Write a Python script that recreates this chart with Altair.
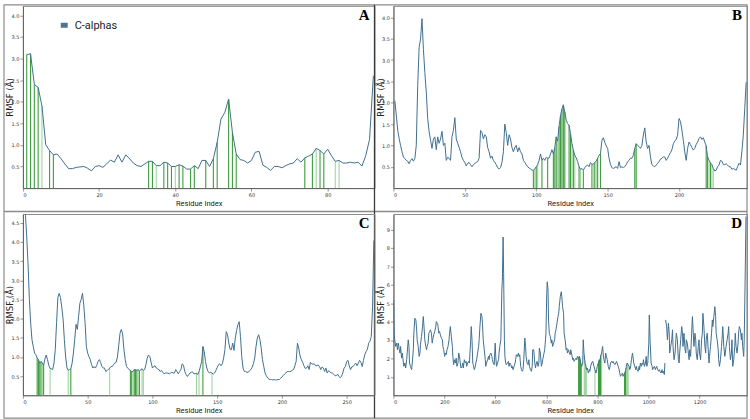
import altair as alt
import numpy as np
import pandas as pd

BLUE = "#3f6f8f"
FRAME = "#8c8c8c"

# ---------------- Panel A: residues 1..92 ----------------
a_rmsf = [
    3.09, 3.11, 2.40, 2.33, 1.90, 1.00, 0.87, 0.77, 0.79, 0.68,
    0.56, 0.45, 0.45, 0.48, 0.49, 0.50, 0.46, 0.40, 0.50, 0.52,
    0.48, 0.56, 0.65, 0.60, 0.77, 0.60, 0.77, 0.68, 0.58, 0.52,
    0.50, 0.56, 0.62, 0.62, 0.52, 0.52, 0.60, 0.58, 0.50, 0.50,
    0.54, 0.51, 0.44, 0.44, 0.52, 0.45, 0.64, 0.64, 0.50, 0.68,
    1.06, 1.60, 1.75, 2.06, 1.29, 0.79, 0.66, 0.64, 0.58, 0.64,
    0.83, 0.85, 0.53, 0.48, 0.41, 0.50, 0.50, 0.47, 0.52, 0.56,
    0.58, 0.68, 0.60, 0.70, 0.74, 0.79, 0.92, 0.87, 0.79, 0.90,
    0.75, 0.62, 0.64, 0.58, 0.58, 0.60, 0.58, 0.60, 0.51, 0.75,
    1.13, 2.60,
]
a_contacts_dark = [1, 2, 3, 4, 7, 8, 33, 34, 37, 38, 39, 41, 42, 44, 45,
                   48, 50, 51, 54, 55, 56, 74, 76, 78, 79]
a_contacts_light = [5, 35, 40, 77, 82, 83]

# ---------------- Panel B: residues 1..247 ----------------
b_rmsf = [
    2.05, 1.71, 1.36, 1.16, 1.00, 0.85, 0.73, 0.69, 0.65, 0.63,
    0.57, 0.65, 0.69, 0.63, 0.69, 1.00, 2.40, 3.30, 3.49, 3.97,
    3.25, 2.71, 2.25, 1.63, 1.32, 1.12, 0.93, 1.15, 1.20, 0.90,
    1.20, 1.05, 1.15, 1.33, 1.00, 1.05, 0.65, 0.72, 0.70, 0.65,
    1.20, 1.35, 1.65, 1.15, 1.05, 0.95, 0.85, 0.72, 0.65, 0.60,
    0.52, 0.58, 0.60, 0.55, 0.50, 0.55, 0.58, 0.60, 0.62, 0.70,
    1.35, 1.30, 1.15, 1.25, 1.20, 0.95, 0.85, 0.70, 0.75, 0.65,
    0.60, 0.55, 0.48, 0.45, 0.48, 0.60, 0.85, 1.50, 1.30, 1.00,
    1.25, 1.15, 0.95, 0.85, 0.95, 1.00, 0.85, 0.95, 0.85, 0.80,
    0.65, 0.60, 0.55, 0.50, 0.47, 0.45, 0.42, 0.42, 0.45, 0.50,
    0.55, 0.65, 0.80, 0.65, 0.70, 0.65, 0.72, 0.70, 0.70, 0.80,
    0.90, 0.80, 0.95, 1.20, 1.10, 1.45, 1.70, 1.85, 1.95, 1.78,
    1.59, 1.51, 1.47, 1.28, 1.04, 0.89, 0.77, 0.71, 0.62, 0.50,
    0.44, 0.46, 0.42, 0.48, 0.52, 0.54, 0.50, 0.60, 0.55, 0.57,
    0.60, 0.63, 0.70, 0.77, 0.81, 1.12, 1.18, 1.07, 0.99, 0.93,
    0.70, 0.55, 0.48, 0.46, 0.48, 0.50, 0.46, 0.62, 0.48, 0.50,
    0.48, 0.50, 0.55, 0.62, 0.65, 0.70, 0.70, 0.77, 0.93, 1.04,
    1.00, 0.97, 0.93, 1.00, 1.24, 1.41, 1.08, 0.93, 1.00, 0.73,
    0.55, 0.52, 0.50, 0.54, 0.58, 0.62, 0.68, 0.70, 0.73, 0.73,
    0.65, 0.70, 0.77, 0.83, 0.90, 1.04, 1.10, 1.14, 1.24, 1.63,
    1.56, 1.36, 1.12, 0.85, 0.65, 0.93, 1.08, 1.02, 0.95, 0.89,
    0.93, 1.02, 1.08, 1.16, 1.20, 1.14, 1.18, 1.08, 0.99, 0.73,
    0.65, 0.59, 0.55, 0.46, 0.40, 0.42, 0.50, 0.54, 0.65, 0.63,
    0.55, 0.55, 0.57, 0.54, 0.50, 0.50, 0.44, 0.46, 0.44, 0.42,
    0.50, 0.58, 0.54, 0.85, 1.24, 1.86, 2.48,
]
b_contacts_dark = [98, 100, 104, 108, 112, 113, 114, 116, 117, 118, 119, 120,
                   123, 124, 126, 130, 133, 139, 141, 143, 145, 169, 170,
                   219, 220, 222]
b_contacts_light = [99, 101, 115, 125, 127, 131, 140, 142, 221, 223, 224]

# ---------------- Panel C: residues 1..271 ----------------
c_rmsf = [
    4.95, 4.70, 4.10, 3.40, 2.50, 1.88, 1.45, 1.27, 1.10, 1.06,
    0.97, 0.93, 0.84, 0.88, 0.84, 0.78, 0.95, 1.05, 0.93, 0.78,
    0.70, 0.69, 0.67, 0.84, 1.20, 1.90, 2.55, 2.66, 2.55, 2.30,
    2.00, 1.45, 1.00, 0.72, 0.65, 0.67, 0.69, 0.84, 1.10, 1.45,
    1.85, 1.72, 2.05, 2.40, 2.50, 2.66, 2.35, 1.90, 1.27, 1.10,
    1.01, 0.93, 0.80, 0.71, 0.75, 0.71, 0.78, 0.88, 0.93, 0.86,
    0.75, 0.71, 0.71, 0.62, 0.65, 0.67, 0.71, 0.75, 0.75, 0.80,
    0.84, 0.86, 1.00, 1.30, 1.62, 1.72, 1.60, 1.20, 0.93, 0.75,
    0.71, 0.67, 0.65, 0.62, 0.62, 0.67, 0.67, 0.65, 0.67, 0.62,
    0.67, 0.69, 0.65, 0.67, 0.80, 0.97, 1.05, 1.01, 0.86, 0.71,
    0.75, 0.77, 0.71, 0.69, 0.67, 0.62, 0.65, 0.60, 0.56, 0.58,
    0.58, 0.58, 0.56, 0.58, 0.60, 0.58, 0.58, 0.67, 0.62, 0.56,
    0.62, 0.67, 0.82, 0.78, 0.62, 0.54, 0.49, 0.54, 0.58, 0.60,
    0.61, 0.56, 0.56, 0.58, 0.54, 0.62, 0.74, 0.88, 1.27, 1.14,
    0.88, 0.71, 0.62, 0.58, 0.60, 0.58, 0.55, 0.58, 0.65, 0.72,
    0.80, 0.82, 0.77, 0.82, 0.97, 1.19, 1.66, 1.58, 1.36, 1.20,
    1.19, 1.36, 1.17, 1.49, 1.69, 1.84, 1.92, 1.53, 1.01, 0.71,
    0.62, 0.62, 0.60, 0.60, 0.64, 0.67, 0.73, 0.82, 0.97, 1.27,
    1.49, 1.58, 1.46, 1.23, 0.93, 0.75, 0.58, 0.51, 0.45, 0.42,
    0.41, 0.41, 0.40, 0.41, 0.40, 0.40, 0.41, 0.41, 0.44, 0.48,
    0.51, 0.55, 0.58, 0.62, 0.62, 0.62, 0.62, 0.66, 0.67, 0.77,
    0.88, 1.36, 1.23, 1.03, 0.93, 0.86, 0.77, 0.70, 0.71, 0.77,
    0.67, 0.86, 0.82, 0.81, 0.82, 0.77, 0.77, 0.79, 0.75, 0.67,
    0.74, 0.71, 0.62, 0.71, 0.58, 0.64, 0.62, 0.58, 0.58, 0.55,
    0.51, 0.51, 0.55, 0.49, 0.46, 0.49, 0.58, 0.71, 0.75, 0.88,
    0.91, 0.77, 0.67, 0.74, 0.75, 0.80, 0.84, 0.77, 0.84, 0.91,
    0.86, 0.75, 0.91, 1.06, 1.14, 1.20, 1.36, 1.41, 1.53, 2.31,
    4.04,
]
c_contacts_dark = [11, 12, 13, 14, 16, 37, 83, 84, 86, 87, 88, 90, 139]
c_contacts_light = [15, 21, 35, 67, 85, 89, 92, 93, 134, 136, 146]

# ---------------- Panel D: sampled residues 1..1382 ----------------
d_residue = [
    1, 3, 5, 9, 13, 16, 19, 23, 26, 28,
    32, 35, 39, 41, 45, 48, 52, 54, 58, 61,
    63, 67, 71, 74, 78, 80, 84, 88, 91, 93,
    97, 101, 104, 106, 110, 114, 117, 119, 123, 127,
    130, 132, 136, 139, 142, 145, 149, 152, 155, 158,
    162, 166, 168, 172, 174, 178, 181, 184, 188, 192,
    194, 197, 201, 203, 207, 210, 214, 218, 220, 223,
    227, 231, 233, 236, 240, 243, 246, 249, 253, 256,
    259, 262, 265, 269, 272, 274, 278, 282, 285, 287,
    291, 295, 298, 300, 303, 305, 308, 311, 313, 317,
    321, 323, 326, 330, 334, 336, 339, 343, 347, 349,
    352, 356, 360, 362, 365, 369, 373, 375, 378, 382,
    386, 388, 391, 395, 399, 401, 404, 408, 412, 414,
    417, 421, 425, 427, 430, 432, 435, 437, 440, 443,
    447, 451, 453, 456, 460, 464, 466, 469, 473, 477,
    479, 482, 486, 490, 492, 495, 499, 502, 505, 508,
    511, 515, 518, 520, 524, 528, 531, 533, 537, 541,
    544, 546, 550, 554, 557, 559, 563, 567, 570, 572,
    576, 580, 583, 585, 589, 593, 596, 598, 601, 603,
    606, 608, 611, 615, 619, 621, 624, 628, 632, 634,
    637, 641, 645, 648, 650, 654, 658, 660, 663, 667,
    669, 673, 677, 680, 682, 686, 690, 693, 695, 699,
    703, 706, 708, 712, 716, 719, 721, 725, 729, 732,
    734, 738, 742, 744, 747, 751, 755, 757, 760, 764,
    768, 770, 773, 777, 781, 783, 786, 790, 794, 796,
    799, 803, 807, 809, 812, 816, 820, 822, 825, 829,
    832, 835, 838, 842, 846, 848, 851, 855, 859, 861,
    864, 868, 872, 874, 877, 881, 885, 887, 890, 894,
    898, 900, 903, 907, 911, 913, 916, 920, 924, 926,
    929, 933, 937, 939, 942, 946, 950, 952, 955, 959,
    963, 965, 968, 972, 975, 978, 980, 984, 988, 991,
    993, 997, 1001, 1003, 1006, 1010, 1014, 1016, 1019, 1023,
    1027, 1029, 1032, 1036, 1040, 1042, 1045, 1049, 1053, 1055,
    1058, 1062, 1064, 1067, 1071, 1074, 1078, 1081, 1083, 1087,
    1091, 1094, 1096, 1100, 1104, 1107, 1109, 1113, 1117, 1120,
    1122, 1126, 1130, 1133, 1135, 1139, 1143, 1146, 1148, 1152,
    1156, 1159, 1161, 1165, 1169, 1172, 1174, 1178, 1182, 1185,
    1187, 1191, 1195, 1198, 1200, 1204, 1208, 1211, 1213, 1217,
    1221, 1224, 1226, 1230, 1234, 1237, 1239, 1243, 1247, 1250,
    1252, 1256, 1260, 1263, 1265, 1269, 1273, 1275, 1278, 1282,
    1286, 1288, 1291, 1295, 1299, 1301, 1304, 1308, 1312, 1314,
    1317, 1321, 1325, 1327, 1330, 1334, 1338, 1340, 1343, 1347,
    1351, 1353, 1356, 1360, 1364, 1366, 1369, 1373, 1375, 1378,
    1382,
]
d_rmsf = [
    5.17, 3.37, 3.01, 2.65, 2.83, 2.47, 2.83, 2.47, 2.29, 2.65,
    2.02, 2.29, 1.75, 1.57, 1.75, 1.48, 1.93, 2.29, 3.01, 2.65,
    1.75, 1.57, 1.39, 1.75, 2.47, 3.37, 4.18, 4.09, 3.55, 3.01,
    2.65, 2.11, 2.29, 2.74, 3.19, 3.73, 4.27, 3.91, 3.01, 2.65,
    2.47, 2.65, 2.83, 3.37, 3.46, 3.55, 3.37, 2.83, 3.10, 3.28,
    3.46, 3.73, 4.00, 3.91, 3.82, 3.37, 3.46, 3.28, 3.10, 3.01,
    2.65, 2.47, 2.11, 2.29, 2.20, 2.47, 2.65, 3.01, 3.37, 3.73,
    3.19, 2.65, 2.11, 1.66, 1.93, 1.75, 2.02, 1.57, 1.75, 2.29,
    2.11, 1.75, 1.48, 1.57, 1.75, 1.48, 1.93, 1.75, 1.84, 1.57,
    1.75, 1.84, 1.75, 2.29, 3.01, 3.73, 3.01, 1.75, 1.66, 1.39,
    1.57, 1.75, 1.93, 2.29, 2.65, 3.01, 3.73, 4.45, 4.27, 3.91,
    3.01, 2.47, 1.93, 1.57, 1.75, 1.93, 2.11, 1.93, 2.20, 2.29,
    2.11, 1.93, 1.75, 1.66, 2.83, 2.11, 1.57, 1.75, 1.93, 2.29,
    2.65, 3.01, 5.71, 6.25, 8.59, 6.61, 3.01, 2.11, 1.75, 1.66,
    1.75, 1.84, 1.57, 1.75, 1.66, 1.48, 1.57, 1.39, 1.57, 1.75,
    1.93, 2.20, 2.11, 2.29, 2.11, 2.20, 1.57, 1.39, 1.30, 1.39,
    1.93, 3.10, 2.65, 2.11, 1.75, 1.66, 1.93, 1.57, 1.39, 1.30,
    1.57, 2.47, 2.47, 1.75, 1.48, 1.66, 1.84, 1.57, 1.75, 2.56,
    2.29, 1.57, 1.75, 1.93, 2.20, 2.47, 3.01, 3.37, 5.53, 6.16,
    5.71, 4.09, 3.37, 3.19, 2.83, 3.01, 2.65, 2.83, 3.01, 3.37,
    3.55, 3.91, 4.27, 4.45, 4.81, 5.35, 5.62, 5.35, 4.81, 4.45,
    3.37, 3.01, 2.47, 2.56, 2.29, 2.47, 2.29, 2.20, 2.47, 2.20,
    1.93, 2.02, 1.84, 1.93, 2.02, 1.93, 2.11, 2.02, 2.11, 1.93,
    1.75, 1.57, 1.75, 3.01, 2.29, 1.75, 1.57, 1.39, 1.48, 1.21,
    1.39, 1.30, 1.57, 1.75, 1.84, 1.75, 1.57, 1.39, 1.21, 1.30,
    1.57, 1.75, 1.93, 1.84, 2.11, 2.29, 2.65, 2.29, 1.93, 1.75,
    2.29, 2.11, 1.93, 1.57, 1.39, 1.48, 1.75, 1.84, 1.75, 1.84,
    1.75, 1.66, 1.75, 1.84, 1.75, 1.57, 1.39, 1.21, 1.03, 1.12,
    1.21, 1.03, 1.12, 1.21, 1.39, 1.57, 1.75, 1.66, 1.57, 1.39,
    1.48, 1.93, 2.29, 2.11, 1.75, 1.57, 1.39, 1.57, 1.39, 1.30,
    1.57, 1.39, 1.75, 1.57, 1.75, 1.66, 1.93, 1.57, 1.75, 2.11,
    1.57, 1.75, 2.83, 4.36, 3.01, 1.75, 1.57, 1.39, 1.48, 1.57,
    1.39, 1.48, 1.57, 1.39, 1.30, 1.39, 1.30, 1.21, 1.39, 1.21,
    1.30, 1.12, 1.75, 4.09, 3.73, 3.01, 3.91, 3.37, 2.29, 2.65,
    3.01, 3.55, 2.65, 1.93, 2.29, 3.01, 3.37, 3.01, 1.93, 1.75,
    2.29, 3.01, 3.73, 3.37, 2.65, 3.37, 2.47, 2.29, 3.01, 2.83,
    2.29, 1.93, 2.47, 2.11, 3.37, 4.27, 3.73, 2.65, 3.37, 3.01,
    2.29, 1.93, 2.65, 3.01, 2.29, 1.93, 3.01, 3.37, 4.45, 3.73,
    2.65, 2.29, 3.01, 3.37, 2.47, 1.75, 2.11, 2.65, 3.37, 4.09,
    3.73, 4.27, 4.81, 4.27, 3.37, 3.01, 2.47, 1.93, 1.57, 1.93,
    2.65, 3.01, 3.73, 2.65, 2.11, 2.29, 2.65, 3.01, 3.37, 3.73,
    2.65, 1.93, 2.29, 3.01, 1.57, 1.93, 2.65, 3.37, 2.65, 2.29,
    2.83, 3.37, 3.73, 3.55, 3.01, 3.37, 2.65, 2.11, 3.01, 5.71,
    9.70,
]
# first residue of each chain segment (the trace is broken between chains)
d_chain_starts = [1, 1066]
d_contacts_dark = [726, 728, 730, 732, 734, 736, 804, 806, 808, 810, 812,
                   814, 906, 908, 910, 912]
d_contacts_light = [748, 750, 752, 754, 756, 790, 816, 914, 916, 918, 920]

assert len(d_residue) == len(d_rmsf)

ONE = pd.DataFrame({"k": [0]})


def panel(residue, rmsf, chain, dark, light, xmax, ymax, xticks, yticks,
          yfmt, letter, w, h, dark_color, light_color):
    line_df = pd.DataFrame({"Residue": residue, "RMSF": rmsf, "chain": chain})
    contacts = sorted(dark + light)
    tops = np.interp(contacts, residue, rmsf)
    contact_df = pd.DataFrame({
        "Residue": contacts,
        "RMSF": tops,
        "base": 0.0,
        "shade": ["dark" if c in dark else "light" for c in contacts],
    })
    xs = alt.Scale(domain=[0, xmax], nice=False, zero=False)
    ys = alt.Scale(domain=[0, ymax], nice=False, zero=False)
    xaxis = alt.Axis(values=xticks, format="d", title="Residue Index",
                     titleY=15, titleBaseline="middle", titleFont="Roboto",
                     titleFontSize=7.5)
    yaxis = alt.Axis(values=yticks, format=yfmt, title="RMSF (Å)",
                     titleX=-13, titleY=h / 2, titleAngle=-90,
                     titleAlign="center", titleBaseline="middle",
                     titleFont="DejaVu Sans", titleFontSize=8.5)
    rules = alt.Chart(contact_df).mark_rule(strokeWidth=1.1).encode(
        x=alt.X("Residue:Q", scale=xs, axis=xaxis),
        y=alt.Y("RMSF:Q", scale=ys, axis=yaxis),
        y2="base:Q",
        color=alt.Color("shade:N", legend=None,
                        scale=alt.Scale(domain=["dark", "light"],
                                        range=[dark_color, light_color])),
    )
    line = alt.Chart(line_df).mark_line(color=BLUE, strokeWidth=1,
                                        clip=True).encode(
        x=alt.X("Residue:Q", scale=xs, axis=xaxis),
        y=alt.Y("RMSF:Q", scale=ys, axis=yaxis),
        detail="chain:N",
    )
    tag = alt.Chart(pd.DataFrame({"letter": [letter]})).mark_text(
        font="Liberation Serif", fontWeight="bold", fontSize=15,
        align="right", baseline="alphabetic", color="black",
    ).encode(x=alt.value(w - 5), y=alt.value(14), text="letter:N")
    return [rules, line, tag]


a_res = list(range(1, len(a_rmsf) + 1))
b_res = list(range(1, len(b_rmsf) + 1))
c_res = list(range(1, len(c_rmsf) + 1))
d_chain = list(np.searchsorted(d_chain_starts, d_residue, side="right"))

WA, HA = 353, 183
WB = 355
HC = 182

layers_a = panel(a_res, a_rmsf, [1] * len(a_res), a_contacts_dark,
                 a_contacts_light, 92.3, 4.22,
                 [0, 20, 40, 60, 80], [0.5, 1, 1.5, 2, 2.5, 3, 3.5, 4],
                 ".1f", "A", WA, HA, "#3f9d3f", "#9fd59f")
layers_b = panel(b_res, b_rmsf, [1] * len(b_res), b_contacts_dark,
                 b_contacts_light, 247.6, 4.27,
                 [0, 50, 100, 150, 200], [0.5, 1, 1.5, 2, 2.5, 3, 3.5, 4],
                 ".1f", "B", WB, HA, "#3f9d3f", "#9fd59f")
layers_c = panel(c_res, c_rmsf, [1] * len(c_res), c_contacts_dark,
                 c_contacts_light, 271.5, 4.73,
                 [0, 50, 100, 150, 200, 250],
                 [0.5, 1, 1.5, 2, 2.5, 3, 3.5, 4, 4.5],
                 ".1f", "C", WA, HC, "#3f9d3f", "#9fd59f")
layers_d = panel(d_residue, d_rmsf, d_chain, d_contacts_dark,
                 d_contacts_light, 1386, 9.84,
                 [0, 200, 400, 600, 800, 1000, 1200],
                 [1, 2, 3, 4, 5, 6, 7, 8, 9],
                 "d", "D", WB, HC, "#0b8a0b", "#86cc86")

# figure frame and panel separators, drawn relative to panel A's plot origin
outer = alt.Chart(ONE).mark_rect(fill=None, stroke=FRAME, strokeWidth=1.2).encode(
    x=alt.value(-19), x2=alt.value(727), y=alt.value(-1), y2=alt.value(414))
vsep = alt.Chart(ONE).mark_rule(color="#3a3a3a", strokeWidth=1.3).encode(
    x=alt.value(WA), y=alt.value(-1), y2=alt.value(414))
hsep = alt.Chart(ONE).mark_rule(color=FRAME, strokeWidth=1.6).encode(
    x=alt.value(-19), x2=alt.value(727), y=alt.value(206.5))

# legend of panel A
legend_patch = alt.Chart(ONE).mark_rect(color="#4a7594").encode(
    x=alt.value(38), x2=alt.value(45), y=alt.value(17), y2=alt.value(22))
legend_text = alt.Chart(pd.DataFrame({"t": ["C-alphas"]})).mark_text(
    font="Roboto", fontSize=11, align="left", baseline="middle",
    color="#222222").encode(x=alt.value(52), y=alt.value(20), text="t:N")

chart_a = alt.layer(outer, hsep, vsep, *layers_a, legend_patch,
                    legend_text).properties(width=WA, height=HA)
chart_b = alt.layer(*layers_b).properties(width=WB, height=HA)
chart_c = alt.layer(*layers_c).properties(width=WA, height=HC)
chart_d = alt.layer(*layers_d).properties(width=WB, height=HC)

chart = alt.concat(
    chart_a, chart_b, chart_c, chart_d,
    columns=2, spacing={"row": 26, "column": 19}, bounds="flush",
).resolve_scale(
    x="independent", y="independent",
).properties(
    padding={"left": 2, "top": 2, "right": 1, "bottom": 1},
).configure(
    background="white",
).configure_view(
    stroke="#8a8a8a", strokeWidth=1,
).configure_axis(
    grid=False, domainColor="#555555", domainWidth=0.8,
    tickColor="#555555", tickSize=3, tickWidth=0.6,
    labelFont="DejaVu Sans", labelFontSize=5, labelColor="#333333",
    labelPadding=1, titleColor="#222222", titleFontWeight="normal",
)

chart.save("out.html", embed_options={"renderer": "svg", "actions": False})
